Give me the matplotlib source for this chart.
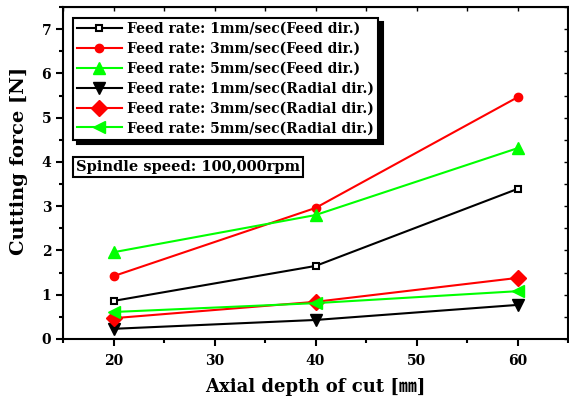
import matplotlib
matplotlib.use("Agg")
import matplotlib.pyplot as plt
from matplotlib.ticker import MultipleLocator

plt.rcParams['font.family'] = ['DejaVu Serif', 'Noto Sans CJK JP', 'DejaVu Sans']
plt.rcParams['font.weight'] = 'bold'

depth = [20, 40, 60]
feed_1mm = [0.86, 1.65, 3.39]
feed_3mm = [1.42, 2.96, 5.46]
feed_5mm = [1.96, 2.80, 4.31]
radial_1mm = [0.23, 0.43, 0.77]
radial_3mm = [0.47, 0.84, 1.38]
radial_5mm = [0.61, 0.81, 1.08]

labels = ["Feed rate: 1mm/sec(Feed dir.)",
          "Feed rate: 3mm/sec(Feed dir.)",
          "Feed rate: 5mm/sec(Feed dir.)",
          "Feed rate: 1mm/sec(Radial dir.)",
          "Feed rate: 3mm/sec(Radial dir.)",
          "Feed rate: 5mm/sec(Radial dir.)"]

fig = plt.figure(figsize=(5.69, 3.98), dpi=100)
ax = fig.add_axes([63/569, 1-339/398, 505/569, 332/398])

G = '#00ff00'
ax.plot(depth, feed_1mm, color='black', lw=1.5, marker='s', ms=5, mfc='white', mec='black', mew=1.5, label=labels[0])
ax.plot(depth, feed_3mm, color='red', lw=1.5, marker='o', ms=6, mfc='red', mec='red', label=labels[1])
ax.plot(depth, feed_5mm, color=G, lw=1.5, marker='^', ms=8, mfc=G, mec=G, label=labels[2])
ax.plot(depth, radial_1mm, color='black', lw=1.5, marker='v', ms=8, mfc='black', mec='black', label=labels[3])
ax.plot(depth, radial_3mm, color='red', lw=1.5, marker='D', ms=8, mfc='red', mec='red', label=labels[4])
ax.plot(depth, radial_5mm, color=G, lw=1.5, marker='<', ms=9, mfc=G, mec=G, label=labels[5])

ax.set_xlim(15, 65)
ax.set_ylim(0, 7.5)
ax.xaxis.set_major_locator(MultipleLocator(10))
ax.xaxis.set_minor_locator(MultipleLocator(5))
ax.yaxis.set_major_locator(MultipleLocator(1))
ax.yaxis.set_minor_locator(MultipleLocator(0.5))
ax.tick_params(which='both', direction='out', width=1.5, labelsize=10)
ax.tick_params(which='major', length=5)
ax.tick_params(which='minor', length=3)
ax.tick_params(axis='x', which='major', pad=6)
for s in ax.spines.values():
    s.set_linewidth(1.5)

axt = ax.secondary_xaxis('top')
axt.xaxis.set_major_locator(MultipleLocator(10))
axt.xaxis.set_minor_locator(MultipleLocator(5))
axt.tick_params(which='both', direction='in', labeltop=False, width=1, length=3)
axr = ax.secondary_yaxis('right')
axr.yaxis.set_major_locator(MultipleLocator(1))
axr.yaxis.set_minor_locator(MultipleLocator(0.5))
axr.tick_params(which='both', direction='in', labelright=False, width=1, length=3)

ax.set_xlabel("Axial depth of cut [㎜]", fontsize=13, fontweight='bold', labelpad=7)
ax.set_ylabel("Cutting force [N]", fontsize=14, fontweight='bold', labelpad=10)
ax.yaxis.label.set_y((339-161)/332)

leg = ax.legend(loc='upper left', bbox_to_anchor=((73-63)/505, (339-18)/332),
                borderaxespad=0, fancybox=False, frameon=True,
                shadow={'color': 'black', 'alpha': 1, 'ox': 3, 'oy': -3},
                prop={'weight': 'bold', 'size': 10}, handlelength=3.2,
                labelspacing=0.42, borderpad=0.3, handletextpad=0.4)
leg.get_frame().set_edgecolor('black')
leg.get_frame().set_linewidth(1.5)

ax.text((76-63)/505, (339-167)/332, "Spindle speed: 100,000rpm", transform=ax.transAxes,
        fontsize=10.5, fontweight='bold', va='center', ha='left',
        bbox=dict(boxstyle='square,pad=0.2', fc='white', ec='black', lw=1.5))

fig.savefig('out.png', dpi=100)
